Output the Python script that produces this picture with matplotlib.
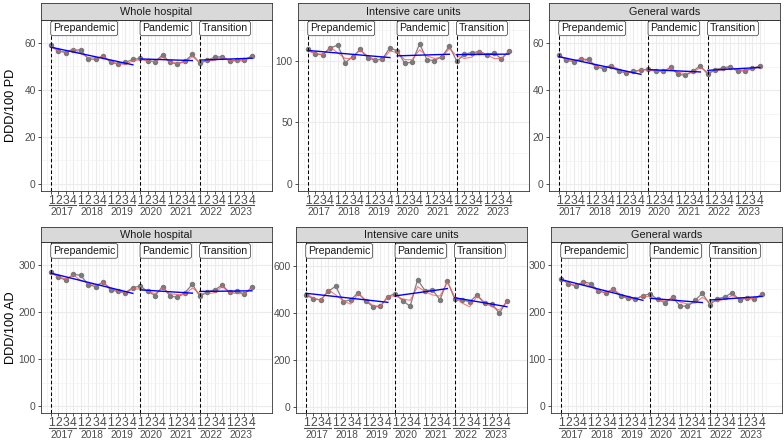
import matplotlib.pyplot as plt
import matplotlib.transforms as mtrans
from matplotlib.lines import Line2D

plt.rcParams['font.family'] = ['Liberation Sans', 'DejaVu Sans']

years = [2017, 2018, 2019, 2020, 2021, 2022, 2023]
quarters = ['1', '2', '3', '4']
periods = ['Prepandemic', 'Pandemic', 'Transition']
period_start = [1, 13, 21]
period_end = [12, 20, 28]

# DDD/100 patient-days, observed / fitted / segment trend (start, end)
wh_pd = [59.0, 56.6, 55.9, 57.0, 57.0, 53.2, 53.0, 54.5, 51.8, 51.1, 51.7, 53.0,
         53.4, 52.4, 52.1, 54.9, 51.7, 51.1, 52.3, 55.1,
         51.3, 52.7, 53.9, 54.2, 52.4, 52.7, 52.8, 54.5]
wh_pd_fit = [58.2, 56.5, 56.2, 57.5, 55.5, 53.8, 53.6, 54.3, 52.2, 51.0, 51.0, 52.3,
             53.0, 52.3, 52.0, 54.0, 51.8, 51.3, 51.8, 54.2,
             51.8, 52.4, 52.6, 54.0, 52.5, 52.2, 52.6, 54.2]
wh_pd_trend = [(58.2, 50.7), (53.2, 52.5), (52.7, 53.5)]

icu_pd = [109.5, 105.4, 105.2, 110.6, 112.8, 98.6, 103.3, 109.3, 102.7, 100.5, 101.6, 110.6,
          108.2, 98.1, 98.9, 113.9, 100.8, 100.3, 103.5, 112.0,
          99.7, 105.4, 106.8, 107.4, 105.2, 106.5, 101.6, 107.9]
icu_pd_fit = [108.0, 106.0, 105.0, 111.0, 106.5, 102.0, 102.0, 109.0, 104.0, 101.0, 101.0, 108.0,
              107.0, 101.0, 101.0, 109.0, 104.0, 102.0, 103.0, 110.0,
              104.0, 102.0, 103.0, 108.0, 105.0, 102.0, 102.0, 108.0]
icu_pd_trend = [(108.5, 102.7), (104.1, 105.4), (105.1, 105.5)]

gw_pd = [55.0, 52.6, 52.1, 53.1, 53.0, 49.8, 49.1, 50.3, 48.0, 47.3, 48.0, 48.5,
         48.9, 48.2, 48.0, 49.6, 46.7, 46.3, 48.0, 50.3,
         46.7, 48.7, 49.4, 50.0, 48.0, 48.3, 49.2, 50.3]
gw_pd_fit = [54.5, 53.0, 52.5, 53.4, 52.0, 50.0, 49.5, 50.6, 48.8, 47.6, 47.5, 48.6,
             48.5, 48.0, 47.8, 49.3, 47.5, 47.0, 47.5, 49.5,
             47.6, 48.2, 48.6, 49.8, 48.6, 48.4, 48.8, 50.0]
gw_pd_trend = [(54.2, 46.7), (48.7, 47.7), (48.4, 49.6)]

# DDD/100 admissions
wh_ad = [286, 275, 268.6, 281, 279, 259, 255, 264.5, 248, 244.6, 242, 253,
         256, 244.6, 236, 255, 235, 232, 242, 260,
         234, 244, 248, 258, 242.6, 245, 239, 254]
wh_ad_fit = [284, 276, 271, 280, 268, 262, 258, 264, 252, 246, 242, 250,
             250, 245, 240, 252, 240, 238, 238, 252,
             240, 240, 242, 255, 242, 240, 240, 252]
wh_ad_trend = [(283.6, 240.5), (248, 241), (244.6, 246)]

icu_ad = [476, 458, 454, 491, 512, 447, 454, 484, 450, 425, 427, 468,
          481, 450, 427, 540, 493, 497, 454, 535,
          456, 454, 446, 475, 441, 436, 397, 451]
icu_ad_fit = [480, 462, 452, 497, 475, 450, 436, 480, 455, 430, 425, 470,
              470, 458, 452, 510, 490, 475, 470, 530,
              465, 440, 425, 470, 440, 425, 410, 445]
icu_ad_trend = [(482, 443.6), (471, 502), (463, 425)]

gw_ad = [272, 261.5, 255.7, 265.4, 261.5, 246, 241.3, 249, 234.6, 230, 228, 236,
         239.4, 227.6, 220.4, 232, 214, 212.6, 225.7, 240.6,
         216.5, 229, 232.8, 242, 226.4, 231, 227.6, 239.4]
gw_ad_fit = [270, 262, 257, 264, 255, 246, 242, 250, 238, 231, 229, 235,
             233, 227, 224, 232, 222, 218, 220, 232,
             222, 224, 228, 236, 230, 229, 230, 238]
gw_ad_trend = [(270, 225.7), (230, 221), (226.4, 234)]

W, H = 784, 443
fig = plt.figure(figsize=(W / 100, H / 100), dpi=100)


def px_axes(l, t, r, b):
    return fig.add_axes([l / W, 1 - b / H, (r - l) / W, (b - t) / H])


def draw_panel(box, strip_top, title, obs, fit, trend, yticks, ylim):
    l, t, r, b = box
    ax = px_axes(l, t, r, b)
    sx = px_axes(l, strip_top, r, t)
    sx.set_facecolor('#D9D9D9')
    sx.set_xticks([])
    sx.set_yticks([])
    for s in sx.spines.values():
        s.set_color('#333333')
        s.set_linewidth(0.6)
    sx.text(0.5, 0.47, title, ha='center', va='center', fontsize=7.8,
            color='#1A1A1A', transform=sx.transAxes)

    x = list(range(1, len(obs) + 1))
    ax.plot(x, obs, color='#808080', lw=0.9, zorder=3)
    ax.plot(x, obs, 'o', color='#7A7A7A', ms=2.9, zorder=3)
    ax.plot(x, fit, color='#FF5A5A', lw=0.8, alpha=0.8, zorder=4)
    for (y0, y1), s, e in zip(trend, period_start, period_end):
        ax.plot([s, e], [y0, y1], color='#0000FF', lw=1.0, zorder=5)
    for s, name in zip(period_start, periods):
        ax.axvline(s, color='black', lw=0.75, ls=(0, (3.4, 2.2)), zorder=6)
        ax.text(s + 0.28, 0.948, name, transform=ax.get_xaxis_transform(),
                ha='left', va='center', fontsize=7.6, color='#1A1A1A', zorder=7,
                bbox=dict(boxstyle='round,pad=0.22,rounding_size=0.2',
                          fc='white', ec='#333333', lw=0.5))

    ax.set_xlim(-0.344, 30.7)
    ax.set_ylim(*ylim)
    ax.set_xticks(x)
    ax.set_xticklabels(quarters * len(years))
    ax.set_xticks([v + 0.5 for v in range(0, 29)], minor=True)
    ax.set_yticks(yticks)
    step = yticks[1] - yticks[0]
    ax.set_yticks([v + step / 2 for v in yticks[:-1]] + [yticks[-1] + step / 2], minor=True)
    ax.tick_params(which='major', length=2.2, width=0.6, color='#333333',
                   labelsize=7.4, labelcolor='#4D4D4D', pad=1.5)
    ax.tick_params(axis='x', which='major', labelsize=8.8, pad=0.6)
    ax.tick_params(which='minor', length=0)
    ax.grid(which='major', color='#EBEBEB', lw=0.8)
    ax.grid(which='minor', color='#F2F2F2', lw=0.5)
    ax.set_axisbelow(True)
    for s in ax.spines.values():
        s.set_color('#333333')
        s.set_linewidth(0.6)

    # nested year labels under quarter ticks
    xt = ax.get_xaxis_transform()
    off_line = mtrans.ScaledTranslation(0, -14.3 / 100, fig.dpi_scale_trans)
    for i, yr in enumerate(years):
        q1 = 4 * i + 1
        ax.add_line(Line2D([q1 - 0.28, q1 + 3.3], [0, 0], transform=xt + off_line,
                           color='#4D4D4D', lw=0.8, clip_on=False))
        ax.annotate(str(yr), xy=(q1 + 1.5, 0), xycoords=xt, xytext=(0, -15.5),
                    textcoords='offset points', ha='center', va='center',
                    fontsize=7.4, color='#4D4D4D', annotation_clip=False)
    return ax


top_boxes = [(41, 19.5, 272, 190.7), (298, 19.5, 529, 190.7), (549, 19.5, 780, 190.7)]
bot_boxes = [(41, 242, 272, 413.3), (296, 242, 527, 413.3), (551, 242, 782, 413.3)]

draw_panel(top_boxes[0], 3.3, 'Whole hospital', wh_pd, wh_pd_fit, wh_pd_trend,
           [0, 20, 40, 60], (-2.95, 69.1))
draw_panel(top_boxes[1], 3.3, 'Intensive care units', icu_pd, icu_pd_fit, icu_pd_trend,
           [0, 50, 100], (-5.7, 133.7))
draw_panel(top_boxes[2], 3.3, 'General wards', gw_pd, gw_pd_fit, gw_pd_trend,
           [0, 20, 40, 60], (-2.8, 64.7))
draw_panel(bot_boxes[0], 226.7, 'Whole hospital', wh_ad, wh_ad_fit, wh_ad_trend,
           [0, 100, 200, 300], (-15, 336))
draw_panel(bot_boxes[1], 226.7, 'Intensive care units', icu_ad, icu_ad_fit, icu_ad_trend,
           [0, 200, 400, 600], (-28, 636))
draw_panel(bot_boxes[2], 226.7, 'General wards', gw_ad, gw_ad_fit, gw_ad_trend,
           [0, 100, 200, 300], (-15, 320))

fig.text(11 / W, 1 - 105 / H, 'DDD/100 PD', rotation=90, ha='center', va='center',
         fontsize=9.2, color='black')
fig.text(11 / W, 1 - 328 / H, 'DDD/100 AD', rotation=90, ha='center', va='center',
         fontsize=9.2, color='black')

fig.savefig('out.png', dpi=100, facecolor='white')
